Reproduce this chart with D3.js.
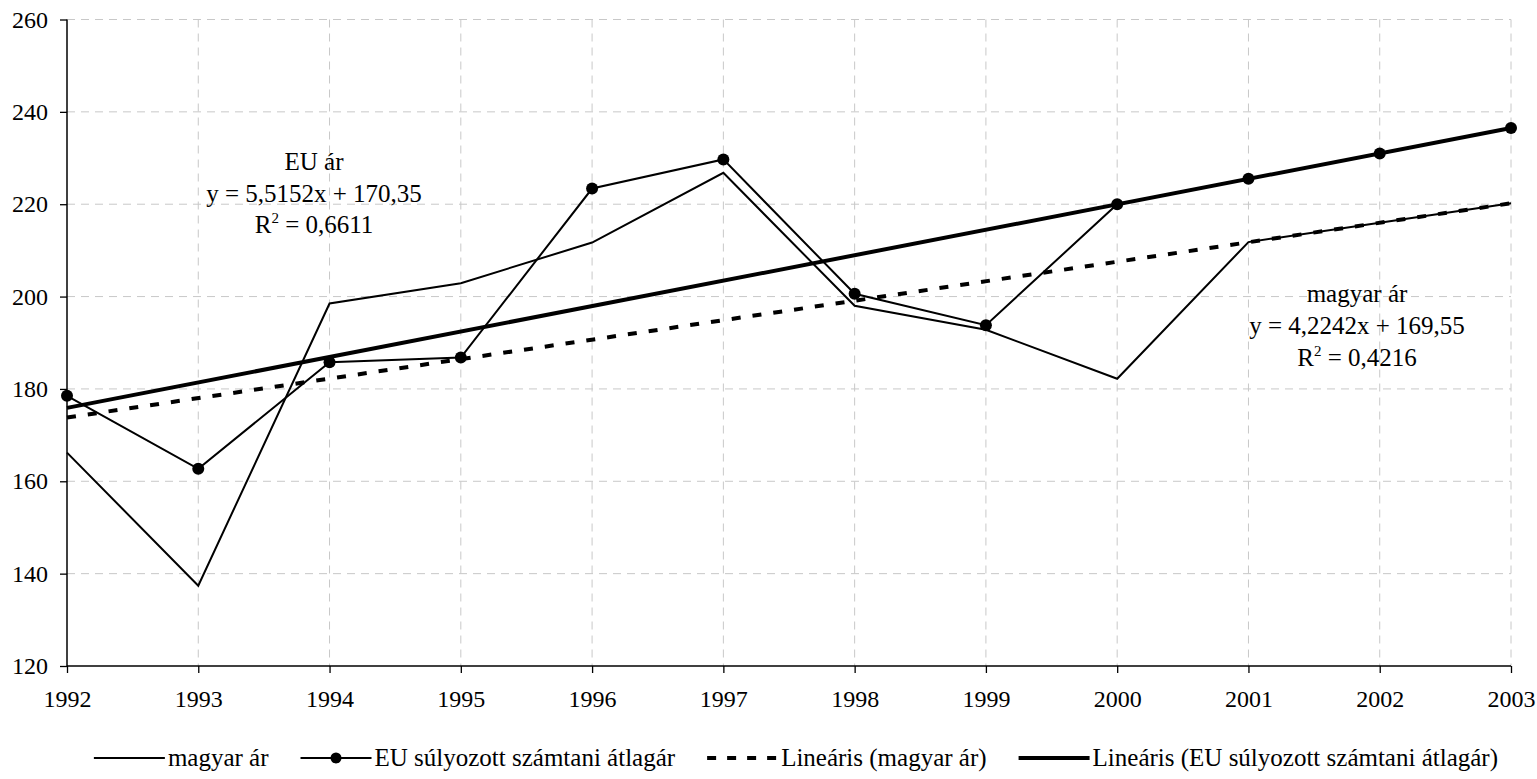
<!DOCTYPE html>
<html>
<head>
<meta charset="utf-8">
<script src="https://cdn.jsdelivr.net/npm/d3@7/dist/d3.min.js"></script>
<style>
  html, body { margin: 0; padding: 0; background: #fff; }
  svg { display: block; }
  text { font-family: "Liberation Serif", "Times New Roman", serif; fill: #000; }
</style>
</head>
<body>
<svg id="chart" width="1537" height="779"></svg>
<script>
// ---- data ----
const years = [1992, 1993, 1994, 1995, 1996, 1997, 1998, 1999, 2000, 2001, 2002, 2003];
const magyarAr = [166.2, 137.4, 198.5, 202.9, 211.7, 226.8, 198.0, 192.8, 182.2, 211.8, 216.0, 220.2];
const euAr = [178.5, 162.7, 185.8, 186.8, 223.4, 229.7, 200.6, 193.8, 220.0, 225.5, 231.0, 236.5];
const trendYears = [1992, 2003];
const trendMagyar = [173.8, 220.2];
const trendEU = [175.9, 236.5];
const yTicks = [120, 140, 160, 180, 200, 220, 240, 260];
const legendLabels = ["magyar ár", "EU súlyozott számtani átlagár", "Lineáris (magyar ár)", "Lineáris (EU súlyozott számtani átlagár)"];
const euEquation = ["EU ár", "y = 5,5152x + 170,35", "R", " = 0,6611"];
const huEquation = ["magyar ár", "y = 4,2242x + 169,55", "R", " = 0,4216"];

// ---- layout ----
const svg = d3.select("#chart");
const pL = 67, pR = 1511, pT = 19.5, pB = 666;
const x = d3.scaleLinear().domain([1992, 2003]).range([pL, pR]);
const y = d3.scaleLinear().domain([120, 260]).range([pB, pT]);
const tickFont = 24, textFont = 25;

// grid
const grid = svg.append("g");
grid.selectAll("line.h").data(yTicks.filter(d => d > 120)).enter().append("line")
  .attr("x1", pL).attr("x2", pR)
  .attr("y1", d => y(d)).attr("y2", d => y(d))
  .attr("stroke", "#c8c8c8").attr("stroke-width", 1).attr("stroke-dasharray", "8,6");
grid.selectAll("line.v").data(years.slice(1)).enter().append("line")
  .attr("x1", d => x(d)).attr("x2", d => x(d))
  .attr("y1", pT).attr("y2", pB)
  .attr("stroke", "#c8c8c8").attr("stroke-width", 1).attr("stroke-dasharray", "8,6");

// axes
const yAxis = d3.axisLeft(y).tickValues(yTicks).tickSize(7).tickPadding(12).tickFormat(d3.format("d"));
const gy = svg.append("g").attr("transform", `translate(${pL},0)`).call(yAxis);
const xAxis = d3.axisBottom(x).tickValues(years).tickSize(7).tickPadding(17).tickFormat(d3.format("d"));
const gx = svg.append("g").attr("transform", `translate(0,${pB})`).call(xAxis);
[gy, gx].forEach(g => {
  g.attr("font-family", null).attr("font-size", null);
  g.selectAll("text").style("font-family", '"Liberation Serif", serif').style("font-size", tickFont + "px").attr("fill", "#000");
  g.selectAll("line").attr("stroke", "#000").attr("stroke-width", 1.3);
  g.select(".domain").attr("stroke", "#000").attr("stroke-width", 1.5);
});
gy.select(".domain").attr("d", `M0,${pT}V${pB}`);
gx.select(".domain").attr("d", `M${pL},0H${pR}`);

// series
const line = d3.line().x(d => x(d[0])).y(d => y(d[1]));
const magyarPts = years.map((yr, i) => [yr, magyarAr[i]]);
const euPts = years.map((yr, i) => [yr, euAr[i]]);
const tM = trendYears.map((yr, i) => [yr, trendMagyar[i]]);
const tE = trendYears.map((yr, i) => [yr, trendEU[i]]);

svg.append("path").datum(magyarPts).attr("d", line)
  .attr("fill", "none").attr("stroke", "#000").attr("stroke-width", 2);
svg.append("path").datum(euPts).attr("d", line)
  .attr("fill", "none").attr("stroke", "#000").attr("stroke-width", 2);
svg.append("path").datum(tM).attr("d", line)
  .attr("fill", "none").attr("stroke", "#000").attr("stroke-width", 4).attr("stroke-dasharray", "9,12");
svg.append("path").datum(tE).attr("d", line)
  .attr("fill", "none").attr("stroke", "#000").attr("stroke-width", 4);
svg.selectAll("circle.eu").data(euPts).enter().append("circle")
  .attr("cx", d => x(d[0])).attr("cy", d => y(d[1])).attr("r", 6).attr("fill", "#000");

// equation labels
function equation(lines, cx, cy0, step) {
  const g = svg.append("g").style("font-size", textFont + "px").attr("text-anchor", "middle");
  g.append("text").attr("x", cx).attr("y", cy0).text(lines[0]);
  g.append("text").attr("x", cx).attr("y", cy0 + step).text(lines[1]);
  const t = g.append("text").attr("x", cx).attr("y", cy0 + 2 * step);
  t.append("tspan").text(lines[2]);
  t.append("tspan").attr("dy", -10).style("font-size", "15px").text("2");
  t.append("tspan").attr("dy", 10).text(lines[3]);
}
equation(euEquation, 314, 170, 31.5);
equation(huEquation, 1357, 302, 32);

// legend (laid out sequentially, right end near x=1498)
const legY = 758;
const legend = svg.append("g").style("font-size", textFont + "px");
const specs = [
  { w: 2, dash: null, marker: false },
  { w: 2, dash: null, marker: true },
  { w: 4, dash: "9,11", marker: false },
  { w: 4, dash: null, marker: false }
];
const lineLen = 71, textOff = 3, gap = 32;
const nodes = [];
legendLabels.forEach((lab, i) => {
  const it = specs[i];
  const gItem = legend.append("g");
  gItem.append("line").attr("x1", 0).attr("x2", lineLen).attr("y1", 0).attr("y2", 0)
    .attr("stroke", "#000").attr("stroke-width", it.w).attr("stroke-dasharray", it.dash);
  if (it.marker) gItem.append("circle").attr("cx", lineLen / 2).attr("cy", 0).attr("r", 5.5).attr("fill", "#000");
  const t = gItem.append("text").attr("x", lineLen + textOff).attr("y", 0).attr("dy", "0.3em").text(lab);
  nodes.push({ g: gItem, w: lineLen + textOff + t.node().getComputedTextLength() });
});
const total = d3.sum(nodes, n => n.w) + gap * (nodes.length - 1);
let cur = 1498 - total;
nodes.forEach(n => {
  n.g.attr("transform", `translate(${cur},${legY})`);
  cur += n.w + gap;
});
</script>
</body>
</html>
